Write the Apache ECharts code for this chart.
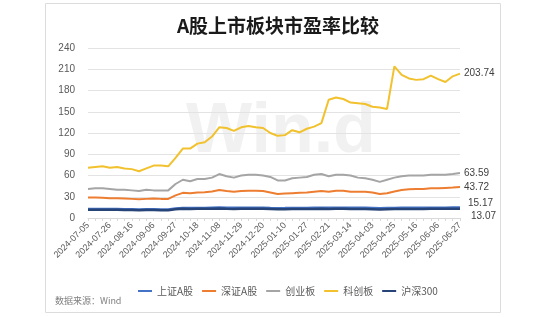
<!DOCTYPE html>
<html><head><meta charset="utf-8">
<script src="https://cdn.jsdelivr.net/npm/echarts@6/dist/echarts.min.js"></script>
<style>html,body{margin:0;padding:0;background:#fff;}#c{width:556px;height:317px;}</style>
</head><body><div id="c"></div>
<script>
const dates = ['2024-07-05','2024-07-12','2024-07-19','2024-07-26','2024-08-02','2024-08-09','2024-08-16','2024-08-23','2024-08-30','2024-09-06','2024-09-13','2024-09-20','2024-09-27','2024-09-30','2024-10-11','2024-10-18','2024-10-25','2024-11-01','2024-11-08','2024-11-15','2024-11-22','2024-11-29','2024-12-06','2024-12-13','2024-12-20','2024-12-27','2025-01-03','2025-01-10','2025-01-17','2025-01-24','2025-01-27','2025-02-07','2025-02-14','2025-02-21','2025-02-28','2025-03-07','2025-03-14','2025-03-21','2025-03-28','2025-04-03','2025-04-11','2025-04-18','2025-04-25','2025-04-30','2025-05-09','2025-05-16','2025-05-23','2025-05-30','2025-06-06','2025-06-13','2025-06-20','2025-06-27'];
const shA = [13.0,13.1,13.0,12.9,12.9,12.7,12.6,12.4,12.6,12.7,12.5,12.4,13.8,14.6,14.4,14.6,14.6,14.9,15.2,14.9,14.7,14.9,15.0,14.9,14.9,14.5,14.2,14.3,14.5,14.6,14.6,14.8,14.9,14.8,14.9,14.9,14.8,14.7,14.8,14.5,14.0,14.3,14.6,14.7,14.8,14.9,14.9,15.0,15.0,15.0,15.1,15.17];
const szA = [29,29,28.5,28,28,27.5,27,26.5,27,27.5,27,27,32,35.5,35,36,36.5,37.5,39.5,38,37,38,38.5,38.5,38,36,34,34.5,35,35.5,36,37,38,37,38.5,38.5,37,37,37,36,34,35,37.5,39.5,40.5,41,41,42,42,42.5,43,43.72];
const cyb = [41,42,42,41,40,40,39,38,40,39,39,39,48,54,52,55,55,57,62,59,57,60,61,61,60,58,53,53,56,57,58,61,62,59,61,61,60,57,56,54,51,54,57,59,60,60,60,61,61,61,62,63.59];
const kcb = [71,72,73,71,72,70,69,66,70,74,74,73,85,98,98,105,107,115,128,127,123,128,130,128,127,120,116,117,124,121,126,129,134,167,170,168,163,162,161,157,156,154,214,202,197,195,196,201,196,192,200,203.74];
const hs300 = [11.6,11.7,11.6,11.5,11.5,11.3,11.2,11.0,11.2,11.3,11.1,11.0,12.3,13.0,12.8,12.9,12.9,13.1,13.3,13.0,12.8,13.0,13.1,13.0,12.9,12.6,12.3,12.4,12.6,12.7,12.6,12.8,12.9,12.8,12.9,12.9,12.8,12.7,12.8,12.5,12.1,12.4,12.6,12.7,12.8,12.8,12.8,12.9,12.9,12.9,13.0,13.07];
const names = ['上证A股','深证A股','创业板','科创板','沪深300'];
const colors = ['#4472C4','#ED7D31','#A5A5A5','#F2C12E','#264478'];
const yTicks = {min:0, max:240, interval:30};

const chart = echarts.init(document.getElementById('c'), null, {renderer:'canvas'});
const FONT = "'Noto Sans CJK SC', 'Liberation Sans', sans-serif";
const NUMFONT = "'Liberation Sans', Arial, sans-serif";
function mk(i, data, extra) {
  return Object.assign({
    name: names[i], type:'line', data: data, symbol:'none',
    lineStyle:{color:colors[i], width:2}, itemStyle:{color:colors[i]},
    endLabel:{show:true, formatter: p => p.value.toFixed(2), color:'#404040', fontSize:10, fontFamily:NUMFONT, distance:4},
    emphasis:{disabled:true}, animation:false
  }, extra || {});
}
chart.setOption({
  animation:false,
  backgroundColor:'#fff',
  textStyle:{fontFamily:FONT},
  title:{text:'A股上市板块市盈率比较', left:'center', top:11, textStyle:{fontSize:19, fontWeight:'bold', color:'#1a1a1a', fontFamily:FONT}},
  graphic:[
    {type:'rect', shape:{x:45.5, y:3.5, width:455, height:309}, style:{fill:'none', stroke:'#dcdcdc', lineWidth:1}, z:-10},
    {type:'text', left:186, top:98, z:-5, style:{text:'Win.d', font:"bold 70px 'Liberation Sans', Arial, sans-serif", fill:'#f1f1f1'}},
    {type:'text', left:55, top:296, style:{text:'数据来源：Wind', font:"9px 'Noto Sans CJK SC', sans-serif", fill:'#808080'}}
  ],
  grid:{left:88, right:96, top:48, bottom:99},
  legend:{left:133, top:281, icon:'rect', itemWidth:14, itemHeight:2, itemGap:9,
    textStyle:{fontSize:10, color:'#595959', fontFamily:FONT}, data:names},
  xAxis:{type:'category', data:dates, boundaryGap:false,
    axisLine:{lineStyle:{color:'#d9d9d9'}},
    axisTick:{show:true, interval:0, length:3, lineStyle:{color:'#d9d9d9'}},
    axisLabel:{interval:2, rotate:45, fontSize:9, color:'#595959', margin:6, fontFamily:NUMFONT}},
  yAxis:{type:'value', min:yTicks.min, max:yTicks.max, interval:yTicks.interval,
    axisLine:{show:false}, axisTick:{show:false},
    splitLine:{lineStyle:{color:'#e3e3e3'}},
    axisLabel:{fontSize:10, color:'#595959', margin:13, fontFamily:NUMFONT}},
  series:[
    mk(0, shA, {endLabel:{show:true, formatter:p=>p.value.toFixed(2), color:'#404040', fontSize:10, offset:[0,-4], fontFamily:NUMFONT}}),
    mk(1, szA),
    mk(2, cyb),
    mk(3, kcb),
    mk(4, hs300, {lineStyle:{color:colors[4], width:2.5}, endLabel:{show:true, formatter:p=>p.value.toFixed(2), color:'#404040', fontSize:10, offset:[3,8], fontFamily:NUMFONT}})
  ]
});
</script></body></html>
